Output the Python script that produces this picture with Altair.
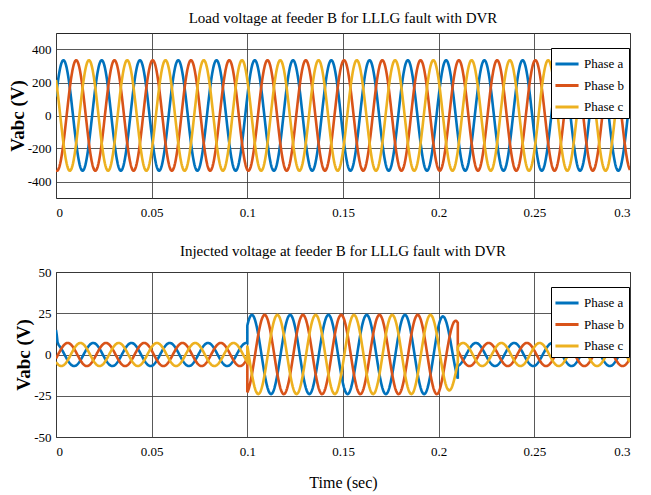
import numpy as np
import pandas as pd
import altair as alt

# ---------------- data ----------------
phase_names = ["Phase a", "Phase b", "Phase c"]
phase_colors = ["#0072BD", "#D95319", "#EDB120"]
phase_offsets_deg = [0, -120, 120]

freq_hz = 50
t_end = 0.3
dt = 0.0002
x_tick_values = [0, 0.05, 0.1, 0.15, 0.2, 0.25, 0.3]

# Top panel: load voltage
load_title = "Load voltage at feeder B for LLLG fault with DVR"
load_amplitude = 335
load_phase_a_deg = 20
load_y_ticks = [-400, -200, 0, 200, 400]
load_y_domain = [-500, 500]

# Bottom panel: injected voltage, piecewise segments
inj_title = "Injected voltage at feeder B for LLLG fault with DVR"
inj_seg_start = [0.0, 0.1, 0.2, 0.21]
inj_seg_end = [0.1, 0.2, 0.21, 0.3]
inj_seg_amp_start = [7, 24, 24, 7]
inj_seg_amp_end = [7, 24, 20, 7]
inj_seg_phase_a_deg = [100, 47, 47, 100]
inj_y_ticks = [-50, -25, 0, 25, 50]
inj_y_domain = [-50, 50]

# start-up spike of phase a in injected voltage
spike_t = [0.0, 0.0004, 0.0008, 0.0014]
spike_add = [8, 5, 1, 0]


def load_rows():
    rows = []
    t = np.linspace(0, t_end, int(round(t_end / dt)) + 1)
    for name, off in zip(phase_names, phase_offsets_deg):
        v = load_amplitude * np.sin(2 * np.pi * freq_hz * t + np.radians(load_phase_a_deg + off))
        for i, (ti, vi) in enumerate(zip(t, v)):
            rows.append({"t": ti, "v": vi, "phase": name, "i": i})
    return pd.DataFrame(rows)


def inj_rows():
    rows = []
    for name, off in zip(phase_names, phase_offsets_deg):
        idx = 0
        for s, e, a0, a1, ph in zip(inj_seg_start, inj_seg_end, inj_seg_amp_start,
                                    inj_seg_amp_end, inj_seg_phase_a_deg):
            n = int(round((e - s) / dt)) + 1
            t = np.linspace(s, e, n)
            if name == "Phase a" and s == 0.0:
                t = np.unique(np.concatenate([spike_t[:-1], t]))
            amp = np.interp(t, [s, e], [a0, a1])
            v = amp * np.sin(2 * np.pi * freq_hz * t + np.radians(ph + off))
            if name == "Phase a" and s == 0.0:
                v = v + np.interp(t, spike_t, spike_add, left=0, right=0)
            for ti, vi in zip(t, v):
                rows.append({"t": ti, "v": vi, "phase": name, "i": idx})
                idx += 1
    return pd.DataFrame(rows)


FONT = "Liberation Serif"


def legend():
    return alt.Legend(
        title=None, orient="none", legendX=495, legendY=15, direction="vertical",
        symbolType="M-1.1,0H1.1", symbolSize=441, symbolStrokeWidth=3,
        labelFont=FONT, labelFontSize=13, labelColor="black", labelOffset=5,
        strokeColor="black", fillColor="white", padding=4, rowPadding=2.5,
        cornerRadius=0,
    )


def panel(df, title, ydom, yticks, xtitle):
    xaxis = alt.Axis(values=x_tick_values, labelExpr="'' + datum.value", grid=True,
                     ticks=False, labelPadding=8, domain=False, labelFont=FONT,
                     labelFontSize=13, labelColor="black", titleFont=FONT, titleFontSize=16,
                     titleFontWeight="normal", titleColor="black", titlePadding=16,
                     gridColor="#3c3c3c", gridOpacity=0.85)
    xscale = alt.Scale(domain=[0, t_end], nice=False, zero=False)
    if xtitle:
        x = alt.X("t:Q", scale=xscale, axis=xaxis, title=xtitle)
    else:
        x = alt.X("t:Q", scale=xscale, axis=xaxis, title=None)
    return alt.Chart(df).mark_line(strokeWidth=2.6, clip=True).encode(
        x=x,
        y=alt.Y("v:Q", scale=alt.Scale(domain=ydom, nice=False),
                axis=alt.Axis(values=yticks, labelExpr="'' + datum.value", grid=True,
                              ticks=False, labelPadding=5, domain=False, labelFont=FONT,
                              labelFontSize=13, labelColor="black", titleFont=FONT,
                              titleFontSize=19, titleFontWeight="bold", titleColor="black",
                              titlePadding=0, gridColor="#3c3c3c", gridOpacity=0.85),
                title="Vabc (V)"),
        color=alt.Color("phase:N", scale=alt.Scale(domain=phase_names, range=phase_colors),
                        legend=legend()),
        detail="phase:N",
        order=alt.Order("i:Q"),
    ).properties(
        width=574, height=165,
        title=alt.TitleParams(title, font=FONT, fontSize=15, fontWeight="normal",
                              color="black", offset=7, anchor="middle"),
    )


top = panel(load_rows(), load_title, load_y_domain, load_y_ticks, None)
bottom = panel(inj_rows(), inj_title, inj_y_domain, inj_y_ticks, "Time (sec)")

chart = alt.vconcat(top, bottom, spacing=74, bounds="flush").resolve_scale(
    color="independent", y="independent"
).resolve_legend(color="independent").properties(
    padding={"left": 7, "top": 10, "right": 5, "bottom": 5},
).configure(
    font=FONT, background="white"
).configure_view(
    stroke="#262626", strokeWidth=1
).configure_legend(
    labelFont=FONT, labelFontSize=13, labelColor="black"
)

chart.save("out.html", embed_options={"renderer": "svg", "actions": False})
